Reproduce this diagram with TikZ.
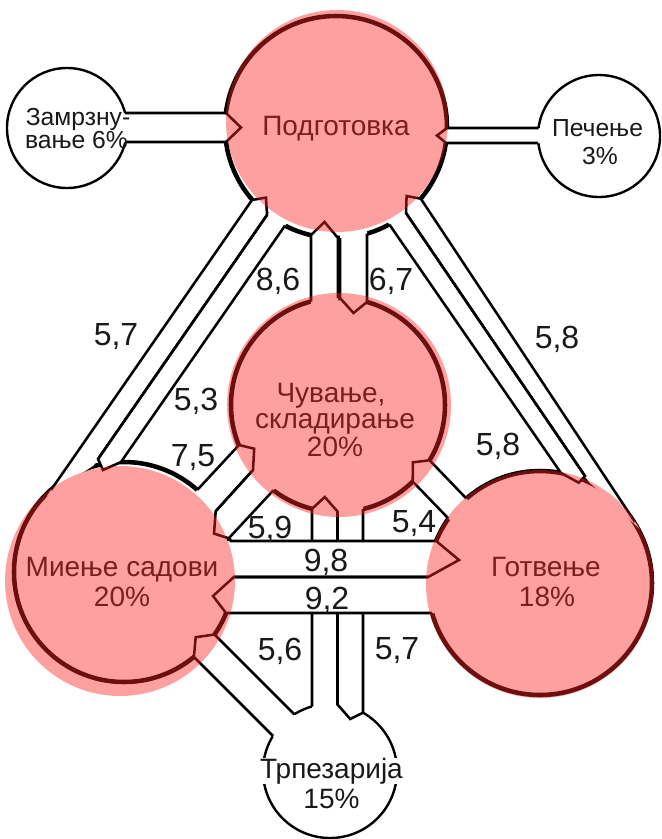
\documentclass[tikz,border=0pt]{standalone}
\usepackage{fontspec}
\setmainfont{Liberation Sans}
\usetikzlibrary{calc}
\definecolor{pinkcol}{RGB}{255,37,37}
\definecolor{ink}{RGB}{25,25,25}
\tikzset{
  bigcirc/.style={circle, draw=black, line width=3.4pt, inner sep=0pt},
  smallcirc/.style={circle, draw=black, line width=1.8pt, inner sep=0pt},
  pinkdisc/.style={circle, fill=pinkcol, fill opacity=0.43, inner sep=0pt},
  bandline/.style={draw=black, line width=1.9pt, line join=miter},
  numlab/.style={font=\fontsize{24}{24}\selectfont, text=ink, inner sep=0pt, anchor=base},
  circlab/.style={font=\fontsize{21}{21}\selectfont, text=ink, inner sep=0pt, anchor=base},
  smalllab/.style={font=\fontsize{18.5}{18.5}\selectfont, text=ink, inner sep=0pt, anchor=base},
}
\newcommand\bandF[5]{\fill[white] ($#1!-6pt!#2$) -- #2 -- #3 -- #4 -- ($#5!-6pt!#4$) -- cycle;}
\newcommand\bandD[5]{\draw[bandline] #1 -- #2 -- #3 -- #4 -- #5;}
\newcommand\band{}
% bands: tail side 1, head side 1, tip, head side 2, tail side 2
\newcommand\bandsA{%
 \band{(125,113)}{(226,113)}{(241,127.5)}{(226,142)}{(125,142)}% freezing -> prep
 \band{(538.5,128)}{(447,128)}{(437,135.5)}{(446,143)}{(538,143)}% baking -> prep
 \band{(51,490)}{(252,200)}{(266,197.6)}{(267,215)}{(98,459)}% 5,7
 \band{(267,215)}{(98,459)}{(103,470)}{(121,462)}{(285,225.6)}% 5,3
 \band{(635,522)}{(420.8,198.7)}{(406.6,196)}{(406,213)}{(585,476)}% 5,8 upper
 \band{(406,213)}{(585,476)}{(578.7,482.7)}{(561,473)}{(389.3,224.4)}% 5,8 lower
 \band{(311,301.5)}{(311,235)}{(324.5,222)}{(338,238)}{(338,298)}% 8,6
 \band{(340,238)}{(340,298)}{(353.5,313)}{(367,302)}{(367,233.6)}% 6,7
 \band{(197.3,489.9)}{(239,445)}{(254.2,448.7)}{(253,470)}{(215.7,511.2)}% 7,5
 \band{(253,470)}{(215.7,511.2)}{(214,533.6)}{(228.7,538.3)}{(273.4,490.3)}% 5,9
 \band{(466.4,498.5)}{(429.6,460.3)}{(412.9,462.3)}{(412.7,481.5)}{(448.4,518.5)}% 5,4
 \band{(312,706.5)}{(312,508.8)}{(324.75,497)}{(337.5,511.5)}{(337.5,704.5)}% up to storage
 \band{(337.5,512)}{(337.5,704.5)}{(350.25,719)}{(363,712.7)}{(363,509)}% down to dining
 \band{(273,736)}{(193.9,656.9)}{(195.7,637.2)}{(214.5,634.5)}{(294.4,714.4)}% 5,6
}
\newcommand\bandsB{%
 \band{(229.5,541)}{(436.2,541)}{(459,560)}{(428.2,577)}{(233.9,577)}% 9,8
 \band{(428.2,577)}{(233.9,577)}{(213,596)}{(226,613)}{(432,613)}% 9,2
}
\begin{document}
\begin{tikzpicture}[x=0.75pt,y=-0.75pt]
\fill[white] (0,0) rectangle (661,839);
\useasboundingbox (0,0) rectangle (661,839);
% circles (outlines)
\node[bigcirc, minimum size=166.5pt] (P) at (336,127) {};
\node[bigcirc, minimum size=160.5pt] (C) at (338,405) {};
\node[bigcirc, minimum size=165pt] (M) at (124,572) {};
\node[bigcirc, minimum size=168pt] (G) at (540,583) {};
\node[smallcirc, minimum size=90pt] (F) at (67,128) {};
\node[smallcirc, minimum size=91.5pt] (B) at (599,136) {};
\node[smallcirc, minimum size=100.5pt] (T) at (330,771) {};
% bands
\let\band\bandF \bandsA
\let\band\bandD \bandsA
\let\band\bandF \bandsB
\let\band\bandD \bandsB
% numbers
\node[numlab] (n86) at (278,290) {8,6};
\node[numlab] (n67) at (391,290) {6,7};
\node[numlab] (n57a) at (116,345) {5,7};
\node[numlab] (n53) at (196,410) {5,3};
\node[numlab] (n75) at (193,466) {7,5};
\node[numlab] (n58a) at (557,348) {5,8};
\node[numlab] (n58b) at (498,455) {5,8};
\node[numlab] (n59) at (270,538) {5,9};
\node[numlab] (n54) at (414,532) {5,4};
\node[numlab] (n98) at (326,571) {9,8};
\node[numlab] (n92) at (327,609) {9,2};
\node[numlab] (n56) at (280,660) {5,6};
\node[numlab] (n57b) at (397,659) {5,7};
% circle labels
\node[circlab] (tP) at (336,135) {Подготовка};
\node[circlab] (tC1) at (331,402) {Чување,};
\node[circlab] (tC2) at (335,428.5) {складирање};
\node[circlab] (tC3) at (335,456.5) {20\%};
\node[circlab] (tM1) at (122,576.5) {Миење садови};
\node[circlab] (tM2) at (122,606.5) {20\%};
\node[circlab] (tG1) at (546,576.5) {Готвење};
\node[circlab] (tG2) at (547,606.5) {18\%};
\node[circlab, fill=white, inner xsep=1pt, inner ysep=0pt] (tT1) at (331.5,778) {Трпезарија};
\node[circlab] (tT2) at (331.5,808) {15\%};
\node[smalllab] (tF1) at (78,125) {Замрзну-};
\node[smalllab] (tF2) at (76.5,148) {вање 6\%};
\node[smalllab] (tB1) at (597.5,136) {Печење};
\node[smalllab] (tB2) at (600,164) {3\%};
% pink overlays
\node[pinkdisc, minimum size=166.5pt] (Pp) at (337,121) {};
\node[pinkdisc, minimum size=168pt] (Cp) at (339,405) {};
\node[pinkdisc, minimum size=172.5pt] (Mp) at (120,581) {};
\node[pinkdisc, minimum size=171pt] (Gp) at (540,584) {};
\end{tikzpicture}
\end{document}
